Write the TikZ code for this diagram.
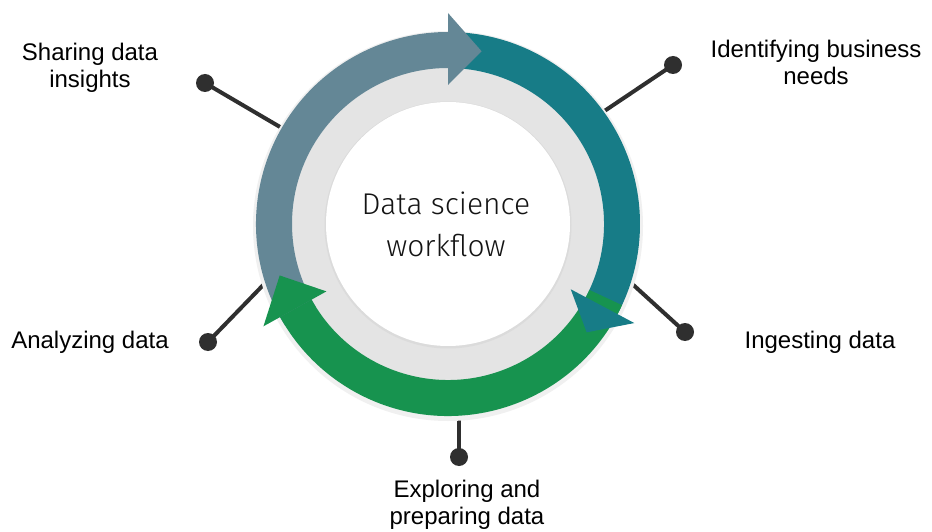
\documentclass[tikz,border=0pt]{standalone}
\usepackage{fontspec}
\setmainfont{Liberation Sans}
\newfontfamily\ctrfont{Fira Sans}[UprightFont={* Light}]
\definecolor{slate}{HTML}{648796}
\definecolor{tealc}{HTML}{177C87}
\definecolor{greenc}{HTML}{17934F}
\definecolor{ringgray}{HTML}{E4E4E4}
\definecolor{linec}{HTML}{2F2F2F}
\tikzset{
  dotnode/.style={circle,fill=linec,inner sep=0pt,minimum size=18pt},
  conn/.style={draw=linec,line width=4pt},
  lbl/.style={anchor=base,inner sep=0pt,font=\fontsize{24}{27}\selectfont},
  ctr/.style={anchor=base,inner sep=0pt,text=black!92,font=\ctrfont\fontsize{30}{42}\selectfont}
}
\newcommand{\bandseg}[3]{%
  \fill[#1] (#2:192pt) arc[start angle=#2, end angle=#3, radius=192pt]
     -- (#3:156pt) arc[start angle=#3, end angle=#2, radius=156pt] -- cycle;}
\newcommand{\headseg}[3]{%
  \fill[#1] (#2:139pt) -- (#2:211pt) -- (#3:176pt) -- cycle;}
\begin{document}
\begin{tikzpicture}[x=1pt,y=1pt]
\useasboundingbox (0,0) rectangle (932,531);
\fill[white] (0,0) rectangle (932,531);
% connectors (behind ring)
\coordinate (c) at (448,307);
\node[dotnode] (dTL) at (205,448) {};
\node[dotnode] (dTR) at (673,466) {};
\node[dotnode] (dR) at (685,199) {};
\node[dotnode] (dL) at (208,189) {};
\node[dotnode] (dB) at (459,74) {};
\coordinate (rTL) at (292,397);
\coordinate (rTR) at (594,413);
\coordinate (rR) at (618,260);
\coordinate (rL) at (270,253);
\coordinate (rB) at (459,130);
\draw[conn] (dTL.center) -- (rTL);
\draw[conn] (dTR.center) -- (rTR);
\draw[conn] (dR.center) -- (rR);
\draw[conn] (dL.center) -- (rL);
\draw[conn] (dB.center) -- (rB);
% ring
\begin{scope}[shift={(448,307)}]
  \fill[black!6] (0,-2) circle[radius=195pt];
  \fill[ringgray] (0,0) circle[radius=160pt];
  \fill[black!14] (0,-1) circle[radius=123.5pt];
  \fill[white] (0,0) circle[radius=122pt];
  \bandseg{slate}{212}{90}
  \bandseg{tealc}{88}{-28}
  \bandseg{greenc}{-25}{-151}
  \headseg{slate}{90}{79}
  \headseg{tealc}{-28}{-38}
  \headseg{greenc}{-151}{-163}
\end{scope}
% labels
\node[lbl] (tSh) at (90,470) {\begin{tabular}[t]{@{}c@{}}Sharing data\\insights\end{tabular}};
\node[lbl] (tId) at (816,473) {\begin{tabular}[t]{@{}c@{}}Identifying business\\needs\end{tabular}};
\node[lbl] (tAn) at (90,183) {Analyzing data};
\node[lbl] (tIn) at (820,183) {Ingesting data};
\node[lbl] (tEx) at (467,34) {\begin{tabular}[t]{@{}c@{}}Exploring and\\preparing data\end{tabular}};
\node[ctr] (tC) at (446,316) {\begin{tabular}[t]{@{}c@{}}Data science\\workflow\end{tabular}};
\end{tikzpicture}
\end{document}
